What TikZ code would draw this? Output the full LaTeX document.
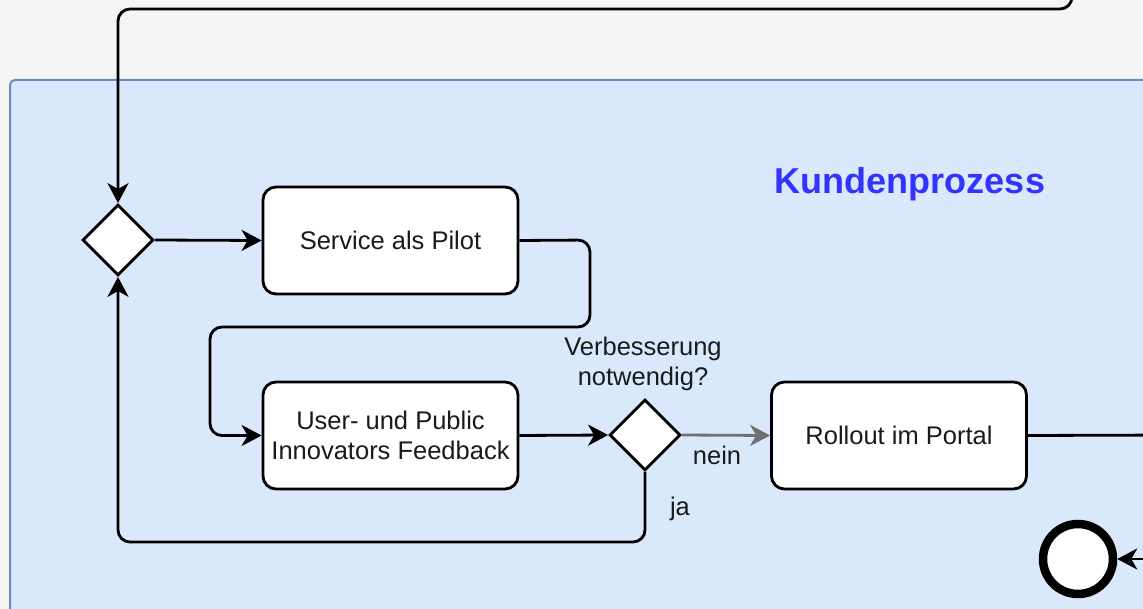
\documentclass[tikz,border=0pt]{standalone}
\usepackage{fontspec}
\setmainfont{Liberation Sans}
\usetikzlibrary{shapes.geometric,arrows.meta,positioning,calc}
\definecolor{bgcol}{HTML}{F4F4F4}
\definecolor{poolfill}{HTML}{DAE8FC}
\definecolor{poolline}{HTML}{6C8EBF}
\definecolor{titleblue}{HTML}{3333FF}
\definecolor{txt}{HTML}{1A1A1A}
\definecolor{flowgray}{HTML}{707070}
\tikzset{
  base/.style={font=\fontsize{25.5}{30}\selectfont, text=txt},
  task/.style={base, draw=black, fill=white, line width=2.8pt, rounded corners=13pt,
    minimum width=255pt, minimum height=107pt, align=center, inner sep=0pt},
  gateway/.style={draw=black, fill=white, line width=2.8pt, diamond, aspect=1,
    minimum width=71pt, minimum height=71pt, inner sep=0pt},
  endevent/.style={draw=black, fill=white, line width=8.5pt, circle,
    minimum size=70pt, inner sep=0pt},
  flow/.style={line width=2.8pt, draw=black, rounded corners=12pt,
    -{Stealth[length=20pt, width=21pt, inset=6pt]}},
  plain/.style={line width=2.8pt, draw=black, rounded corners=12pt},
  lbl/.style={base, inner sep=0pt, align=center},
}
\begin{document}
\begin{tikzpicture}[x=1pt, y=-1pt]
  \useasboundingbox (0,0) rectangle (1143,609);
  \clip (0,0) rectangle (1143,609);
  \fill[bgcol] (0,0) rectangle (1143,609);

  % pool
  \draw[fill=poolfill, draw=poolline, line width=2pt, rounded corners=5pt]
    (10,80) rectangle (1170,640);
  \node[font=\fontsize{36}{40}\selectfont\bfseries, text=titleblue, inner sep=0pt]
    (title) at (910,184) {Kundenprozess};

  % nodes
  \node[gateway] (g1) at (118,240) {};
  \node[task] (pilot) at (390.5,240.5) {Service als Pilot};
  \node[task] (feedback) at (390.5,435.5) {User- und Public\\Innovators Feedback};
  \node[gateway] (g2) at (645,435) {};
  \node[task] (rollout) at (899,435.5) {Rollout im Portal};
  \node[endevent] (end) at (1078,559) {};

  \node[lbl] (q) at (643,364) {Verbesserung\\notwendig?};
  \node[lbl] (nein) at (717,455) {nein};
  \node[lbl] (ja) at (680,509) {ja};

  % free ends outside the frame
  \coordinate (topin) at (1072,-30);
  \coordinate (rightout) at (1180,435);
  \coordinate (endin) at (1180,559);

  % connectors
  \draw[flow] (topin) |- (118,9) -- (g1.north);
  \draw[flow] (g1.east) -- (pilot.west);
  \draw[flow] (pilot.east) -- (590,240) -- (590,327) -- (210,327) |- (feedback.west);
  \draw[flow] (feedback.east) -- (g2.west);
  \draw[flow, draw=flowgray, -{Stealth[length=20pt, width=21pt, inset=6pt, fill=flowgray]}]
    (g2.east) -- (rollout.west);
  \draw[flow] (g2.south) -- (645,542) -| (g1.south);
  \draw[plain] (rollout.east) -- (rightout);
  \draw[flow] (endin) -- (end.east);
\end{tikzpicture}
\end{document}
